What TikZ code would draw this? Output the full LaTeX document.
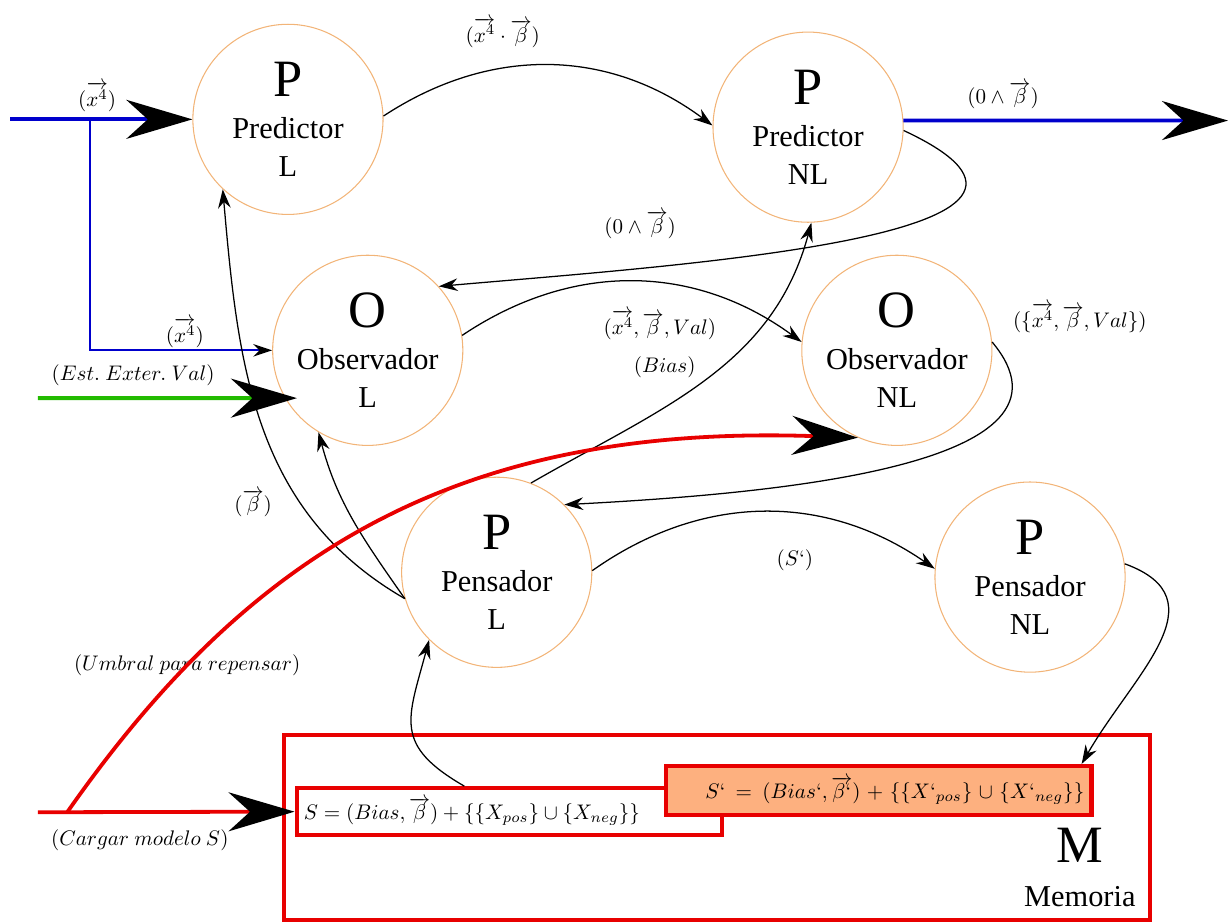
\documentclass[tikz,border=0pt]{standalone}
\usepackage{amsmath, amssymb}
\usepackage[no-math]{fontspec}
\setmainfont{Liberation Serif}
\usepackage{xcolor}
\usetikzlibrary{calc,arrows.meta}

\definecolor{ringOrange}{HTML}{F2B478}
\definecolor{memRed}{HTML}{E80000}
\definecolor{inBlue}{HTML}{0000CC}
\definecolor{estGreen}{HTML}{22BB00}
\definecolor{sFill}{HTML}{FDB07F}

\tikzset{
  agent/.style={circle,draw=ringOrange,line width=0.5pt,minimum size=3.17cm,inner sep=0pt,align=center,font=\Large},
  flow/.style={line width=0.6pt,-{Stealth[length=9pt,width=6pt,inset=3pt]}},
  bigtip/.style={-{Stealth[black,length=1.1cm,width=0.65cm]}},
  memline/.style={draw=memRed,line width=2pt},
}

\begin{document}
\begin{tikzpicture}
\useasboundingbox (0,0) rectangle (20.52,15.37);
% agentes
\node[agent] (predL) at (4.80,13.38) {{\Huge P}\\[2pt]Predictor\\L};
\node[agent] (predNL) at (13.47,13.25) {{\Huge P}\\[2pt]Predictor\\NL};
\node[agent] (obsL) at (6.13,9.53) {{\Huge O}\\[2pt]Observador\\L};
\node[agent] (obsNL) at (14.95,9.53) {{\Huge O}\\[2pt]Observador\\NL};
\node[agent] (penL) at (8.28,5.83) {{\Huge P}\\[2pt]Pensador\\L};
\node[agent] (penNL) at (17.17,5.75) {{\Huge P}\\[2pt]Pensador\\NL};
% memoria
\node[memline,rectangle,minimum width=14.44cm,minimum height=3.09cm] (memBox) at (11.95,1.575) {};
\node[memline,rectangle,fill=white,text width=6.85cm,inner xsep=0.12cm,minimum height=0.78cm,align=left] (sBox) at (8.49,1.84) {$S=(Bias,\overrightarrow{\beta})+\{\{X_{pos}\}\cup\{X_{neg}\}\}$};
\node[memline,rectangle,fill=sFill,text width=6.85cm,inner xsep=0.12cm,minimum height=0.82cm,align=right] (spBox) at (14.65,2.19) {$S{`}=(Bias{`},\overrightarrow{\beta{`}})+\{\{X{`}_{pos}\}\cup\{X{`}_{neg}\}\}$};
\node[font=\Huge] (memM) at (18.0,1.28) {M};
\node[font=\Large] (memName) at (18.0,0.42) {Memoria};
% etiquetas
\node (lblXin) at (1.62,13.75) {$(\overrightarrow{x^4})$};
\node (lblXB) at (8.38,14.83) {$(\overrightarrow{x^4}\cdot\overrightarrow{\beta})$};
\node (lblOut) at (16.72,13.78) {$(0\wedge\overrightarrow{\beta})$};
\node (lblBack) at (10.67,11.62) {$(0\wedge\overrightarrow{\beta})$};
\node (lblXobs) at (3.08,9.82) {$(\overrightarrow{x^4})$};
\node (lblEst) at (2.22,9.12) {$(Est.\ Exter.\ Val)$};
\node (lblObs) at (11.0,9.95) {$(\overrightarrow{x^4},\overrightarrow{\beta},Val)$};
\node (lblBias) at (11.08,9.25) {$(Bias)$};
\node (lblSet) at (18.0,10.07) {$(\{\overrightarrow{x^4},\overrightarrow{\beta},Val\})$};
\node (lblBeta) at (4.22,6.98) {$(\overrightarrow{\beta})$};
\node (lblS) at (13.25,6.03) {$(S{`})$};
\node (lblUmbral) at (3.12,4.28) {$(Umbral\ para\ repensar)$};
\node (lblCargar) at (2.33,1.37) {$(Cargar\ modelo\ S)$};
% extremos libres
\coordinate (xIni) at (0.17,13.38);
\coordinate (xBranch) at (1.5,13.38);
\coordinate (estIni) at (0.63,8.733);
\coordinate (predOut) at (20.47,13.36);
\coordinate (cargarIni) at (0.63,1.83);
\coordinate (umbralIni) at (1.12,1.83);
% entradas
\draw[inBlue,line width=1.8pt,bigtip] (xIni) -- (predL.west);
\draw[inBlue,line width=0.8pt,-{Stealth[black,length=9pt,width=6pt,inset=3pt]}] (xBranch) |- (obsL.west);
\draw[estGreen,line width=1.8pt,bigtip,shorten >=-0.2cm] (estIni) -- (obsL.-150);
\draw[inBlue,line width=1.8pt,bigtip] (predNL.4) -- (predOut);
% flujos
\draw[flow] (predL.2) to[bend left=35] (predNL.179);
\draw[flow] (predNL.-2) to[out=-25,in=5,looseness=1.3] (obsL.42);
\draw[flow] (obsL.9) to[bend left=35] (obsNL.175);
\draw[flow] (obsNL.5) to[out=-50,in=3,out looseness=0.9,in looseness=1.2] (penL.45);
\draw[flow] (penL.69) to[out=30,in=-105] (predNL.-88);
\draw[flow] (penL.196) to[out=150,in=-85] (predL.-133);
\draw[flow] (penL.196) to[out=125,in=-75] (obsL.-121);
\draw[flow] (penL.1) to[bend left=35] (penNL.175);
\draw[flow] (penNL.8) to[out=-20,in=60,looseness=1.3] ([xshift=-0.2cm]spBox.north east);
\draw[flow] ([xshift=-0.75cm]sBox.north) to[out=150,in=-105,looseness=1.4] (penL.-135);
% modelo
\draw[memRed,line width=1.8pt,bigtip] (cargarIni) -- (sBox.west);
\draw[memRed,line width=1.8pt,bigtip] (umbralIni) to[out=55,in=178,out looseness=0.9,in looseness=1.2] (obsNL.-114);
\end{tikzpicture}
\end{document}
